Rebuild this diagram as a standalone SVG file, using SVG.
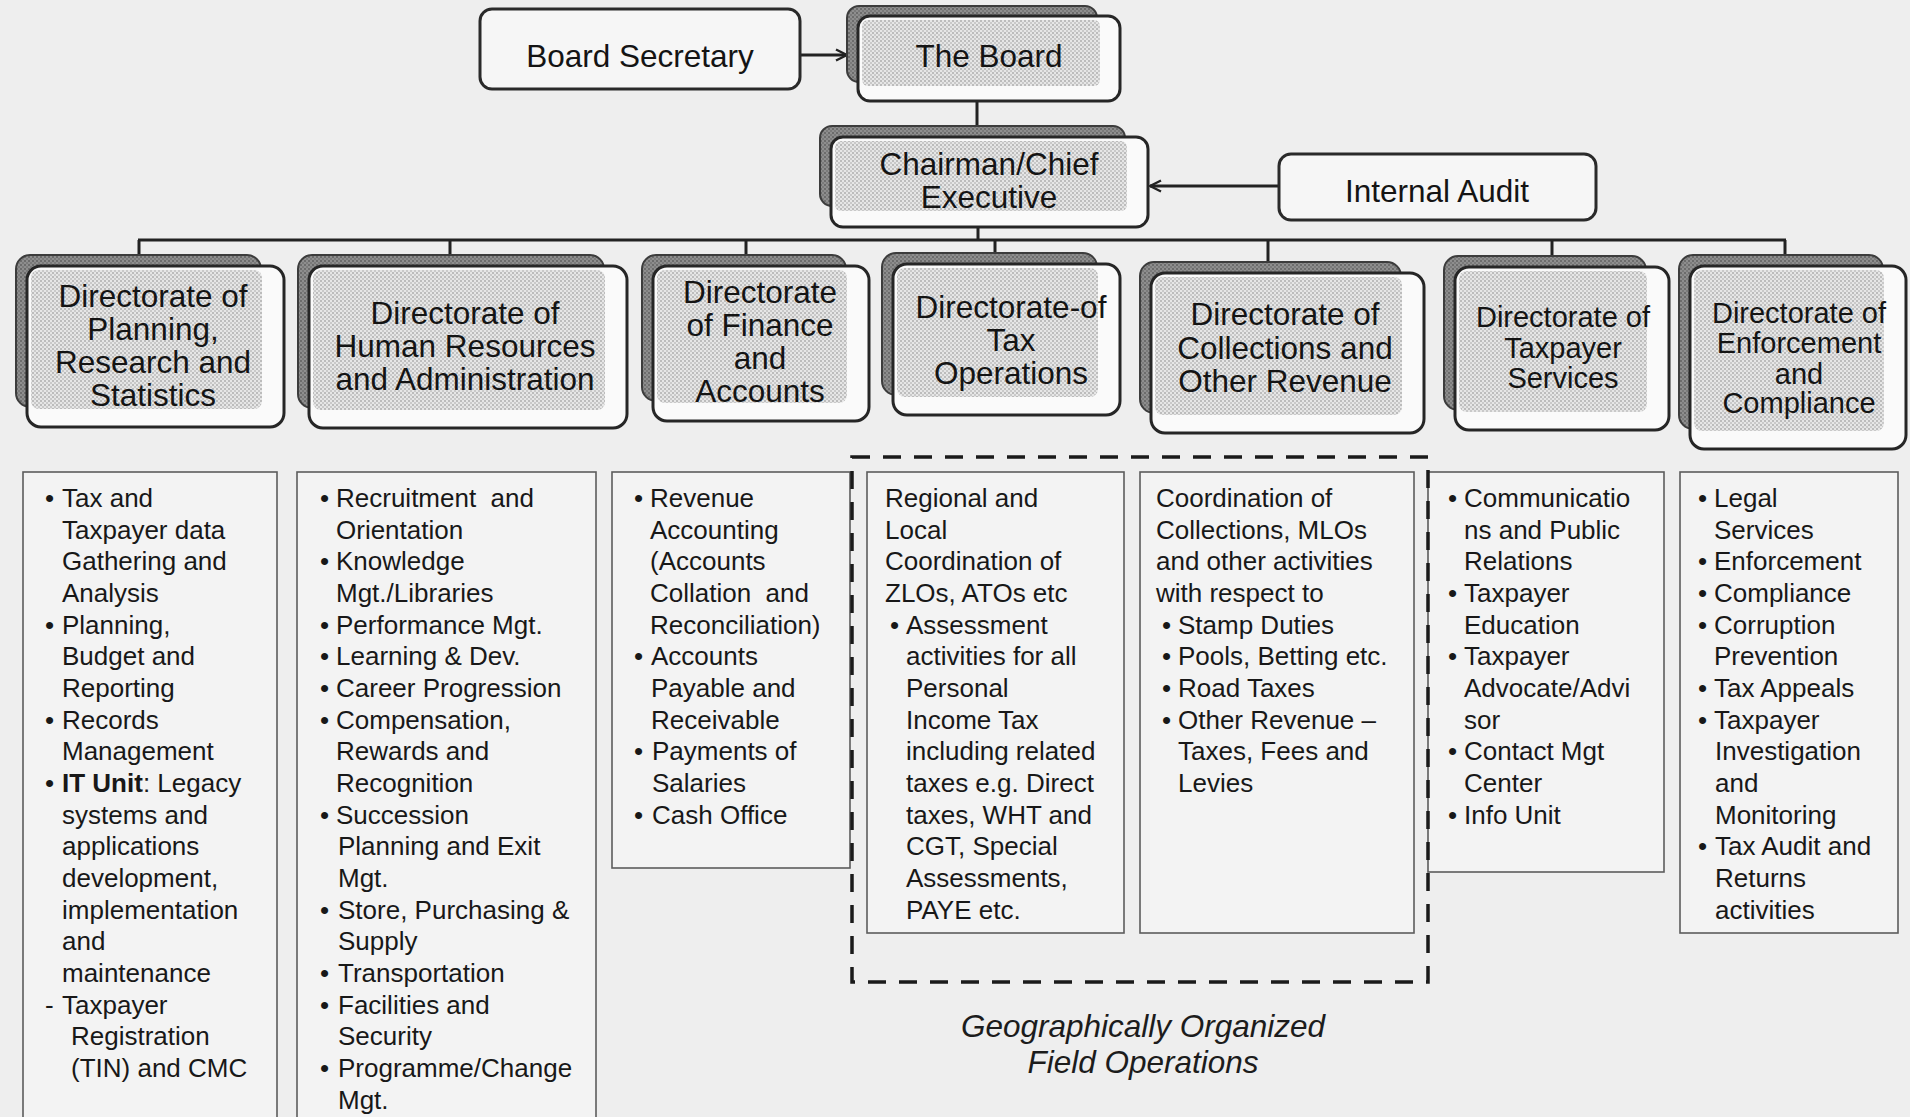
<svg xmlns="http://www.w3.org/2000/svg" width="1910" height="1117" viewBox="0 0 1910 1117">
  <defs>
    <pattern id="stipple" width="4" height="4" patternUnits="userSpaceOnUse">
      <rect width="4" height="4" fill="#e6e6e6"/>
      <rect width="2" height="2" fill="#bcbcbc"/>
      <rect x="2" y="2" width="2" height="2" fill="#c9c9c9"/>
    </pattern>
    <pattern id="dark" width="4" height="4" patternUnits="userSpaceOnUse">
      <rect width="4" height="4" fill="#8e8e8e"/>
      <rect width="2" height="2" fill="#6c6c6c"/>
      <rect x="2" y="2" width="2" height="2" fill="#7a7a7a"/>
    </pattern>
    <marker id="chev" viewBox="0 0 14 14" refX="13" refY="7" markerWidth="14" markerHeight="14" markerUnits="userSpaceOnUse" orient="auto">
      <path d="M2,1.5 L13,7 L2,12.5" fill="none" stroke="#222" stroke-width="2.4"/>
    </marker>
    <style>
      .back { fill: url(#dark); stroke: #3c3c3c; stroke-width: 2; }
      .frame { fill: #fafafa; stroke: #262626; stroke-width: 3; }
      .dot { fill: url(#stipple); }
      .plain { fill: #f6f6f6; stroke: #2a2a2a; stroke-width: 3; }
      .list { fill: #f3f3f3; stroke: #5c5c5c; stroke-width: 1.6; }
      .head { font-family: "Liberation Sans", Arial, sans-serif; font-size: 31.5px; fill: #141414; text-anchor: middle; }
      .head.sm { font-size: 29px; }
      .item { font-family: "Liberation Sans", Arial, sans-serif; font-size: 26px; fill: #181818; }
      .cap { font-family: "Liberation Sans", Arial, sans-serif; font-size: 31.5px; font-style: italic; fill: #1c1c1c; text-anchor: middle; }
      .wire { stroke: #222; stroke-width: 3; fill: none; }
      .field { stroke: #1a1a1a; stroke-width: 3.5; fill: none; stroke-dasharray: 18 13; }
    </style>
  </defs>

  <rect width="1910" height="1117" fill="#eeeeee"/>

  <!-- connectors -->
  <g id="connectors">
    <line class="wire" x1="801" y1="55" x2="847" y2="55" marker-end="url(#chev)"/>
    <line class="wire" x1="1279" y1="186" x2="1150" y2="186" marker-end="url(#chev)"/>
    <line class="wire" x1="977" y1="101" x2="977" y2="126"/>
    <line class="wire" x1="978" y1="227" x2="978" y2="240"/>
    <line class="wire" x1="138" y1="240" x2="1786" y2="240"/>
    <line class="wire" x1="139" y1="240" x2="139" y2="255"/>
    <line class="wire" x1="450" y1="240" x2="450" y2="255"/>
    <line class="wire" x1="746" y1="240" x2="746" y2="255"/>
    <line class="wire" x1="995" y1="240" x2="995" y2="253"/>
    <line class="wire" x1="1268" y1="240" x2="1268" y2="262"/>
    <line class="wire" x1="1552" y1="240" x2="1552" y2="256"/>
    <line class="wire" x1="1785" y1="240" x2="1785" y2="255"/>
  </g>

  <!-- top level -->
  <g id="board-secretary">
    <rect class="plain" x="480" y="9" width="320" height="80" rx="12"/>
    <text class="head" x="640" y="67">Board Secretary</text>
  </g>
  <g id="the-board">
    <rect class="back" x="847" y="6" width="250" height="76" rx="12"/>
    <rect class="frame" x="858" y="16" width="262" height="85" rx="12"/>
    <rect class="dot" x="862" y="20" width="238" height="66" rx="6"/>
    <text class="head" x="989" y="67">The Board</text>
  </g>
  <g id="chairman">
    <rect class="back" x="820" y="126" width="305" height="80" rx="12"/>
    <rect class="frame" x="831" y="137" width="317" height="90" rx="12"/>
    <rect class="dot" x="835" y="141" width="292" height="70" rx="6"/>
    <text class="head" x="989" y="175">Chairman/Chief</text>
    <text class="head" x="989" y="208">Executive</text>
  </g>
  <g id="internal-audit">
    <rect class="plain" x="1279" y="154" width="317" height="66" rx="12"/>
    <text class="head" x="1437" y="202">Internal Audit</text>
  </g>

  <!-- directorates -->
  <g id="dir-planning">
    <rect class="back" x="16" y="255" width="245" height="152" rx="14"/>
    <rect class="frame" x="27" y="266" width="257" height="161" rx="14"/>
    <rect class="dot" x="31" y="270" width="231" height="139" rx="8"/>
    <text class="head" x="153" y="307">Directorate of</text>
    <text class="head" x="153" y="340">Planning,</text>
    <text class="head" x="153" y="373">Research and</text>
    <text class="head" x="153" y="406">Statistics</text>
  </g>
  <g id="dir-hr">
    <rect class="back" x="298" y="255" width="306" height="153" rx="14"/>
    <rect class="frame" x="309" y="266" width="318" height="162" rx="14"/>
    <rect class="dot" x="313" y="270" width="292" height="140" rx="8"/>
    <text class="head" x="465" y="324">Directorate of</text>
    <text class="head" x="465" y="357">Human Resources</text>
    <text class="head" x="465" y="390">and Administration</text>
  </g>
  <g id="dir-finance">
    <rect class="back" x="642" y="255" width="204" height="146" rx="14"/>
    <rect class="frame" x="653" y="266" width="216" height="155" rx="14"/>
    <rect class="dot" x="657" y="270" width="190" height="133" rx="8"/>
    <text class="head" x="760" y="303">Directorate</text>
    <text class="head" x="760" y="336">of Finance</text>
    <text class="head" x="760" y="369">and</text>
    <text class="head" x="760" y="402">Accounts</text>
  </g>
  <g id="dir-tax-operations">
    <rect class="back" x="882" y="253" width="215" height="142" rx="14"/>
    <rect class="frame" x="893" y="264" width="227" height="151" rx="14"/>
    <rect class="dot" x="897" y="268" width="201" height="129" rx="8"/>
    <text class="head" x="1011" y="318">Directorate-of</text>
    <text class="head" x="1011" y="351">Tax</text>
    <text class="head" x="1011" y="384">Operations</text>
  </g>
  <g id="dir-collections">
    <rect class="back" x="1140" y="262" width="261" height="151" rx="14"/>
    <rect class="frame" x="1151" y="273" width="273" height="160" rx="14"/>
    <rect class="dot" x="1155" y="277" width="247" height="138" rx="8"/>
    <text class="head" x="1285" y="325">Directorate of</text>
    <text class="head" x="1285" y="359">Collections and</text>
    <text class="head" x="1285" y="392">Other Revenue</text>
  </g>
  <g id="dir-taxpayer-services">
    <rect class="back" x="1444" y="256" width="202" height="154" rx="14"/>
    <rect class="frame" x="1455" y="267" width="214" height="163" rx="14"/>
    <rect class="dot" x="1459" y="271" width="188" height="141" rx="8"/>
    <text class="head sm" x="1563" y="327">Directorate of</text>
    <text class="head sm" x="1563" y="358">Taxpayer</text>
    <text class="head sm" x="1563" y="388">Services</text>
  </g>
  <g id="dir-enforcement">
    <rect class="back" x="1679" y="255" width="204" height="174" rx="14"/>
    <rect class="frame" x="1690" y="266" width="216" height="183" rx="14"/>
    <rect class="dot" x="1694" y="270" width="190" height="161" rx="8"/>
    <text class="head sm" x="1799" y="323">Directorate of</text>
    <text class="head sm" x="1799" y="353">Enforcement</text>
    <text class="head sm" x="1799" y="384">and</text>
    <text class="head sm" x="1799" y="413">Compliance</text>
  </g>

  <!-- functions of each directorate -->
  <g id="list-planning">
    <rect class="list" x="23" y="472" width="254" height="660"/>
    <g class="item">
      <text y="507"><tspan x="45">•</tspan><tspan x="62">Tax and</tspan></text>
      <text x="62" y="538.7">Taxpayer data</text>
      <text x="62" y="570.3">Gathering and</text>
      <text x="62" y="602">Analysis</text>
      <text y="633.7"><tspan x="45">•</tspan><tspan x="62">Planning,</tspan></text>
      <text x="62" y="665.3">Budget and</text>
      <text x="62" y="697">Reporting</text>
      <text y="728.7"><tspan x="45">•</tspan><tspan x="62">Records</tspan></text>
      <text x="62" y="760.4">Management</text>
      <text y="792"><tspan x="45">•</tspan><tspan x="62" font-weight="bold">IT Unit</tspan><tspan>: Legacy</tspan></text>
      <text x="62" y="823.7">systems and</text>
      <text x="62" y="855.4">applications</text>
      <text x="62" y="887">development,</text>
      <text x="62" y="918.7">implementation</text>
      <text x="62" y="950.4">and</text>
      <text x="62" y="982">maintenance</text>
      <text y="1013.7"><tspan x="45">-</tspan><tspan x="62">Taxpayer</tspan></text>
      <text x="71" y="1045.4">Registration</text>
      <text x="71" y="1077">(TIN) and CMC</text>
    </g>
  </g>
  <g id="list-hr">
    <rect class="list" x="297" y="472" width="299" height="660"/>
    <g class="item">
      <text y="507"><tspan x="320">•</tspan><tspan x="336">Recruitment&#160; and</tspan></text>
      <text x="336" y="538.7">Orientation</text>
      <text y="570.3"><tspan x="320">•</tspan><tspan x="336">Knowledge</tspan></text>
      <text x="336" y="602">Mgt./Libraries</text>
      <text y="633.7"><tspan x="320">•</tspan><tspan x="336">Performance Mgt.</tspan></text>
      <text y="665.3"><tspan x="320">•</tspan><tspan x="336">Learning &amp; Dev.</tspan></text>
      <text y="697"><tspan x="320">•</tspan><tspan x="336">Career Progression</tspan></text>
      <text y="728.7"><tspan x="320">•</tspan><tspan x="336">Compensation,</tspan></text>
      <text x="336" y="760.4">Rewards and</text>
      <text x="336" y="792">Recognition</text>
      <text y="823.7"><tspan x="320">•</tspan><tspan x="336">Succession</tspan></text>
      <text x="338" y="855.4">Planning and Exit</text>
      <text x="338" y="887">Mgt.</text>
      <text y="918.7"><tspan x="320">•</tspan><tspan x="338">Store, Purchasing &amp;</tspan></text>
      <text x="338" y="950.4">Supply</text>
      <text y="982"><tspan x="320">•</tspan><tspan x="338">Transportation</tspan></text>
      <text y="1013.7"><tspan x="320">•</tspan><tspan x="338">Facilities and</tspan></text>
      <text x="338" y="1045.4">Security</text>
      <text y="1077"><tspan x="320">•</tspan><tspan x="338">Programme/Change</tspan></text>
      <text x="338" y="1108.7">Mgt.</text>
    </g>
  </g>
  <g id="list-finance">
    <rect class="list" x="612" y="472" width="238" height="396"/>
    <g class="item">
      <text y="507"><tspan x="634">•</tspan><tspan x="650">Revenue</tspan></text>
      <text x="650" y="538.7">Accounting</text>
      <text x="650" y="570.3">(Accounts</text>
      <text x="650" y="602">Collation&#160; and</text>
      <text x="650" y="633.7">Reconciliation)</text>
      <text y="665.3"><tspan x="634">•</tspan><tspan x="651">Accounts</tspan></text>
      <text x="651" y="697">Payable and</text>
      <text x="651" y="728.7">Receivable</text>
      <text y="760.4"><tspan x="634">•</tspan><tspan x="652">Payments of</tspan></text>
      <text x="652" y="792">Salaries</text>
      <text y="823.7"><tspan x="634">•</tspan><tspan x="652">Cash Office</tspan></text>
    </g>
  </g>
  <g id="list-tax-operations">
    <rect class="list" x="867" y="472" width="257" height="461"/>
    <g class="item">
      <text x="885" y="507">Regional and</text>
      <text x="885" y="538.7">Local</text>
      <text x="885" y="570.3">Coordination of</text>
      <text x="885" y="602">ZLOs, ATOs etc</text>
      <text y="633.7"><tspan x="890">•</tspan><tspan x="906">Assessment</tspan></text>
      <text x="906" y="665.3">activities for all</text>
      <text x="906" y="697">Personal</text>
      <text x="906" y="728.7">Income Tax</text>
      <text x="906" y="760.4">including related</text>
      <text x="906" y="792">taxes e.g. Direct</text>
      <text x="906" y="823.7">taxes, WHT and</text>
      <text x="906" y="855.4">CGT, Special</text>
      <text x="906" y="887">Assessments,</text>
      <text x="906" y="918.7">PAYE etc.</text>
    </g>
  </g>
  <g id="list-collections">
    <rect class="list" x="1140" y="472" width="274" height="461"/>
    <g class="item">
      <text x="1156" y="507">Coordination of</text>
      <text x="1156" y="538.7">Collections, MLOs</text>
      <text x="1156" y="570.3">and other activities</text>
      <text x="1156" y="602">with respect to</text>
      <text y="633.7"><tspan x="1162">•</tspan><tspan x="1178">Stamp Duties</tspan></text>
      <text y="665.3"><tspan x="1162">•</tspan><tspan x="1178">Pools, Betting etc.</tspan></text>
      <text y="697"><tspan x="1162">•</tspan><tspan x="1178">Road Taxes</tspan></text>
      <text y="728.7"><tspan x="1162">•</tspan><tspan x="1178">Other Revenue –</tspan></text>
      <text x="1178" y="760.4">Taxes, Fees and</text>
      <text x="1178" y="792">Levies</text>
    </g>
  </g>
  <g id="list-taxpayer-services">
    <rect class="list" x="1428" y="472" width="236" height="400"/>
    <g class="item">
      <text y="507"><tspan x="1448">•</tspan><tspan x="1464">Communicatio</tspan></text>
      <text x="1464" y="538.7">ns and Public</text>
      <text x="1464" y="570.3">Relations</text>
      <text y="602"><tspan x="1448">•</tspan><tspan x="1464">Taxpayer</tspan></text>
      <text x="1464" y="633.7">Education</text>
      <text y="665.3"><tspan x="1448">•</tspan><tspan x="1464">Taxpayer</tspan></text>
      <text x="1464" y="697">Advocate/Advi</text>
      <text x="1464" y="728.7">sor</text>
      <text y="760.4"><tspan x="1448">•</tspan><tspan x="1464">Contact Mgt</tspan></text>
      <text x="1464" y="792">Center</text>
      <text y="823.7"><tspan x="1448">•</tspan><tspan x="1464">Info Unit</tspan></text>
    </g>
  </g>
  <g id="list-enforcement">
    <rect class="list" x="1680" y="472" width="218" height="461"/>
    <g class="item">
      <text y="507"><tspan x="1698">•</tspan><tspan x="1714">Legal</tspan></text>
      <text x="1714" y="538.7">Services</text>
      <text y="570.3"><tspan x="1698">•</tspan><tspan x="1714">Enforcement</tspan></text>
      <text y="602"><tspan x="1698">•</tspan><tspan x="1714">Compliance</tspan></text>
      <text y="633.7"><tspan x="1698">•</tspan><tspan x="1714">Corruption</tspan></text>
      <text x="1714" y="665.3">Prevention</text>
      <text y="697"><tspan x="1698">•</tspan><tspan x="1714">Tax Appeals</tspan></text>
      <text y="728.7"><tspan x="1698">•</tspan><tspan x="1714">Taxpayer</tspan></text>
      <text x="1715" y="760.4">Investigation</text>
      <text x="1715" y="792">and</text>
      <text x="1715" y="823.7">Monitoring</text>
      <text y="855.4"><tspan x="1698">•</tspan><tspan x="1715">Tax Audit and</tspan></text>
      <text x="1715" y="887">Returns</text>
      <text x="1715" y="918.7">activities</text>
    </g>
  </g>

  <!-- field operations grouping -->
  <g id="field-operations">
    <rect class="field" x="852" y="457" width="576" height="525"/>
    <text class="cap" x="1143" y="1037">Geographically Organized</text>
    <text class="cap" x="1143" y="1073">Field Operations</text>
  </g>
</svg>
